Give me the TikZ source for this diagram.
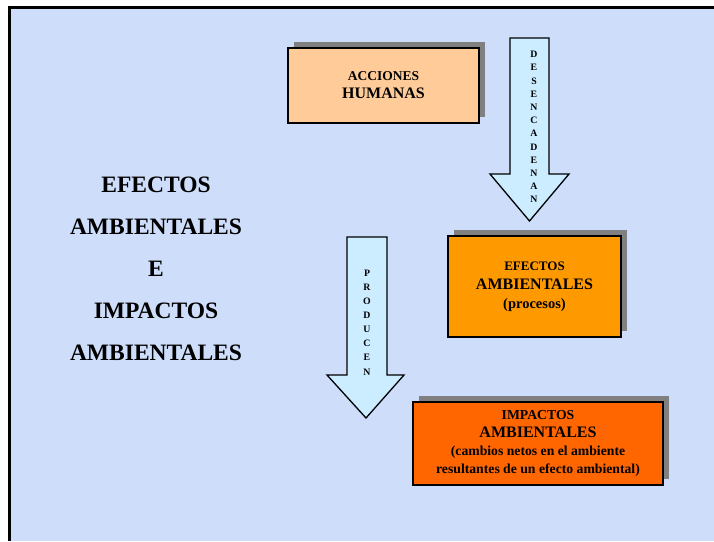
\documentclass[tikz,border=0pt]{standalone}
\usepackage{fontspec}
\setmainfont{Liberation Serif}
\usetikzlibrary{shadows}

\definecolor{hintergrund}{RGB}{206,221,250}
\definecolor{lachs}{RGB}{255,204,153}
\definecolor{orangehell}{RGB}{255,153,0}
\definecolor{orangedunkel}{RGB}{255,102,0}
\definecolor{pfeilblau}{RGB}{204,236,255}

\newcommand{\gross}[1]{{\fontsize{16}{18}\selectfont #1}}

\tikzset{
  kasten/.style={draw=black, line width=1.6pt, align=center,
    drop shadow={shadow xshift=6pt, shadow yshift=6pt, fill=black!50, opacity=1}},
  pfeil/.style={draw=black, line width=1.3pt, fill=pfeilblau},
  buchstaben/.style={align=center, font=\bfseries\fontsize{9.8}{13.2}\selectfont}
}

\begin{document}
\begin{tikzpicture}[x=1pt,y=-1pt]
  \useasboundingbox (0,0) rectangle (714,541);
  \fill[white] (0,0) rectangle (714,541);
  \fill[hintergrund] (9,7) rectangle (714,541);
  \draw[line width=3pt] (9,541) -- (9,7) -- (714,7);

  % Titel links
  \node[align=center, font=\bfseries\fontsize{23.5}{42}\selectfont] (titel) at (156,268.5)
    {EFECTOS\\AMBIENTALES\\E\\IMPACTOS\\AMBIENTALES};

  % Kaesten
  \node[kasten, fill=lachs, minimum width=191pt, minimum height=75pt,
        font=\bfseries\fontsize{13.5}{18}\selectfont] (acciones) at (383.5,85.5)
    {ACCIONES\\\gross{HUMANAS}};
  \node[kasten, fill=orangehell, minimum width=173pt, minimum height=101pt,
        font=\bfseries\fontsize{13}{19}\selectfont] (efectos) at (534.5,286.5)
    {EFECTOS\\\gross{AMBIENTALES}\\{\fontsize{14.5}{19}\selectfont (procesos)}};
  \node[kasten, fill=orangedunkel, minimum width=250pt, minimum height=83pt,
        font=\bfseries\fontsize{13.7}{18}\selectfont] (impactos) at (538,443.5)
    {IMPACTOS\\\gross{AMBIENTALES}\\(cambios netos en el ambiente\\resultantes de un efecto ambiental)};

  % Pfeile
  \draw[pfeil] (510,38) -- (549,38) -- (549,174) -- (569,174) -- (529.5,221) -- (490,174) -- (510,174) -- cycle;
  \node[buchstaben] (desencadenan) at (534,127) {D\\E\\S\\E\\N\\C\\A\\D\\E\\N\\A\\N};

  \draw[pfeil] (347,237) -- (387,237) -- (387,375) -- (404,375) -- (366,418) -- (327,375) -- (347,375) -- cycle;
  \node[buchstaben, font=\bfseries\fontsize{9.8}{14.1}\selectfont] (producen) at (367,322.5) {P\\R\\O\\D\\U\\C\\E\\N};
\end{tikzpicture}
\end{document}
